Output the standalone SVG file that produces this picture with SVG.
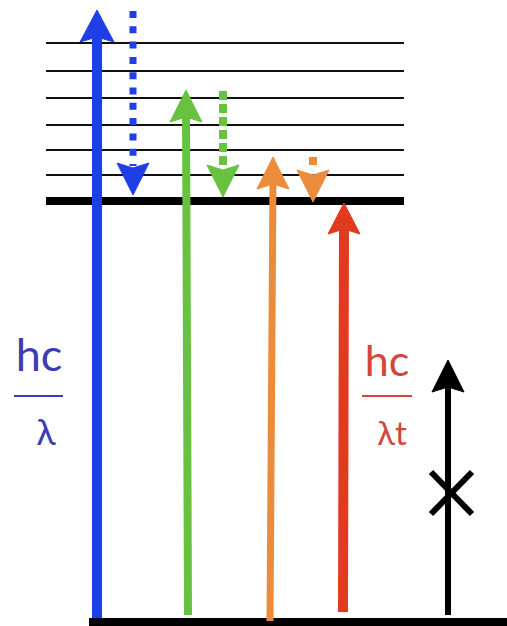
<svg xmlns="http://www.w3.org/2000/svg" width="507" height="626" viewBox="0 0 507 626">
<style>
.lvl{stroke:#111;stroke-width:2}
.blue{stroke:#1e3fe8;fill:#1e3fe8}
.green{stroke:#66c23f;fill:#66c23f}
.orange{stroke:#eb8c3c;fill:#eb8c3c}
.red{stroke:#e23a1f;fill:#e23a1f}
.blk{stroke:#000;fill:#000}
.lbl{font-family:Lato,"Liberation Sans",sans-serif;text-anchor:middle}
</style>
<rect width="507" height="626" fill="#fff"/>
<g id="levels">
<line class="lvl" x1="46" y1="43" x2="404" y2="43"/>
<line class="lvl" x1="46" y1="71" x2="404" y2="71"/>
<line class="lvl" x1="46" y1="98" x2="404" y2="98"/>
<line class="lvl" x1="46" y1="125" x2="404" y2="125"/>
<line class="lvl" x1="46" y1="150" x2="404" y2="150"/>
<line class="lvl" x1="46" y1="175" x2="404" y2="175"/>
<line x1="46" y1="201" x2="404" y2="201" stroke="#000" stroke-width="8"/>
<line x1="89" y1="622" x2="507" y2="622" stroke="#000" stroke-width="8"/>
</g>
<g id="connectors">
<g id="blue-up">
<line class="blue" x1="97" y1="618" x2="97" y2="30" stroke-width="10"/>
<path class="blue" stroke="none" d="M97,10 L114,42 L97,37 L80,42 Z"/>
</g>
<g id="blue-down">
<line class="blue" x1="133" y1="11" x2="133" y2="166" stroke-width="7" stroke-dasharray="7 8.3"/>
<path class="blue" stroke="none" d="M133,195 L117,163 L133,168 L149,163 Z"/>
</g>
<g id="green-up">
<line class="green" x1="188" y1="615" x2="186" y2="110" stroke-width="8"/>
<path class="green" stroke="none" d="M186,90 L202,122 L186,117 L170,122 Z"/>
</g>
<g id="green-down">
<line class="green" x1="223" y1="91" x2="223" y2="166" stroke-width="8" stroke-dasharray="9 4"/>
<path class="green" stroke="none" d="M223,197 L207,165 L223,170 L239,165 Z"/>
</g>
<g id="orange-up">
<line class="orange" x1="270" y1="621" x2="273" y2="177" stroke-width="7"/>
<path class="orange" stroke="none" d="M273,157 L289,189 L273,184 L257,189 Z"/>
</g>
<g id="orange-down">
<line class="orange" x1="313" y1="157" x2="313" y2="165" stroke-width="8"/>
<path class="orange" stroke="none" d="M313,202 L297,170 L313,175 L329,170 Z"/>
</g>
<g id="red-up">
<line class="red" x1="343" y1="612" x2="344" y2="223" stroke-width="10"/>
<path class="red" stroke="none" d="M344,203 L360,234 L344,229 L328,234 Z"/>
</g>
<g id="black-up">
<line class="blk" x1="448" y1="615" x2="448" y2="380" stroke-width="6"/>
<path class="blk" stroke="none" d="M448,360 L464,392 L448,387 L432,392 Z"/>
<path stroke="#000" stroke-width="6" fill="none" d="M431,472 L472,514 M472,472 L431,514"/>
</g>
</g>
<g id="label-blue" fill="#3c3cb4">
<text class="lbl" x="39" y="371" font-size="45">hc</text>
<line x1="14" y1="396" x2="63" y2="396" stroke="#3c3cb4" stroke-width="2"/>
<text class="lbl" x="46" y="445" font-size="36">λ</text>
</g>
<g id="label-red" fill="#d2463c">
<text class="lbl" x="387" y="376" font-size="43">hc</text>
<line x1="362" y1="396" x2="412" y2="396" stroke="#d2463c" stroke-width="2"/>
<text class="lbl" x="392" y="445" font-size="33">λt</text>
</g>
</svg>
